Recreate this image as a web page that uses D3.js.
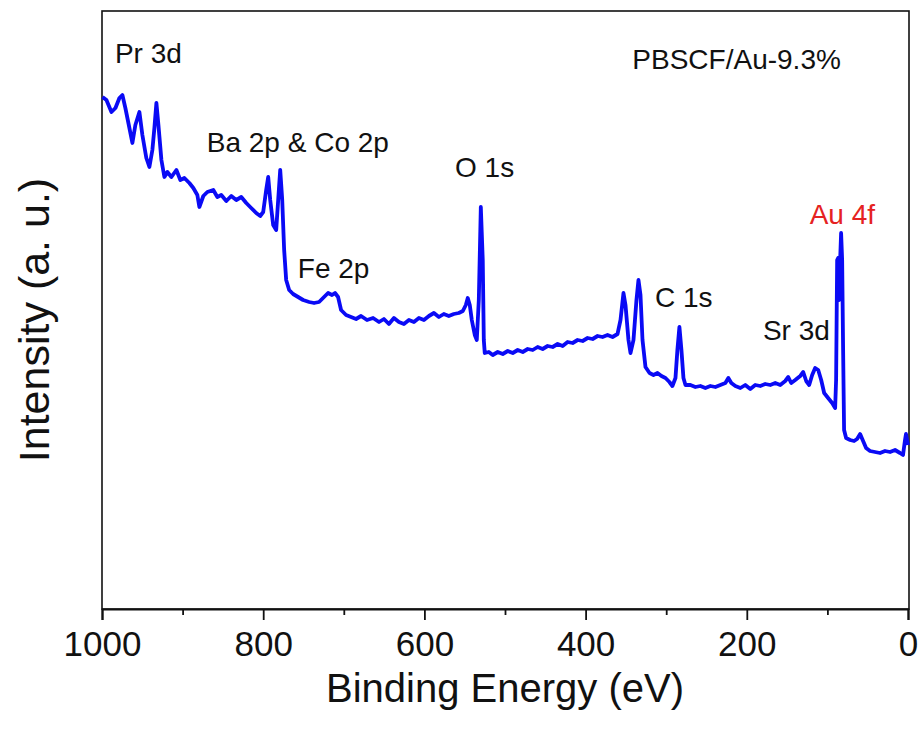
<!DOCTYPE html>
<html>
<head>
<meta charset="utf-8">
<script src="https://cdn.jsdelivr.net/npm/d3@7"></script>
<style>
  body { margin: 0; background: #fff; }
  text { font-family: "Liberation Sans", Arial, sans-serif; }
</style>
</head>
<body>
<div id="vis1"></div>
<script>
// XPS survey spectrum, PBSCF/Au-9.3%
var bindingEnergy = [999.4,994.5,988.3,983.3,978.4,974.7,971,966,962.3,958.6,953.6,949.9,945,941.2,937.5,935,932.5,930,926.3,922.6,918.9,913.9,907.7,902.8,897.8,891.6,886.7,881.7,879.2,874.3,869.3,861.9,856.9,852,845.8,839.6,833.4,827.2,821,814.9,808.7,803.7,800,796.3,793.8,791.3,787.6,783.9,781.4,778.9,776.4,774,771.5,767.8,762.9,756.7,750.5,743,736.9,730.7,724.5,719.5,714.6,710.9,707.1,703.4,697.2,691,684.8,678.6,671.2,663.7,656.3,650.2,644,637.8,631.6,625.4,619.2,613,606.8,600.6,594.4,588.2,582,575.9,569.7,563.5,557.3,552.3,548.6,546.2,543.7,541.2,537.5,535,532.5,530,527.6,526.3,525.1,520.1,515.2,509,502.8,496.6,490.4,484.2,478,471.8,465.6,459.5,453.3,447.1,440.9,434.7,428.5,422.3,416.1,409.9,403.7,397.5,391.3,385.1,379,372.8,366.6,360.4,356.7,353,350.5,346.8,344.3,340.6,336.9,334.4,331.9,329.4,325.7,320.7,315.8,310.8,305.9,300.9,296,292.3,288.5,286.1,283.6,281.1,278.6,276.1,270,263.8,257.6,251.4,245.2,239,232.8,226.6,222.9,219.2,214.2,208,201.9,195.7,189.5,183.3,177.1,170.9,164.7,158.5,152.3,148.6,144.9,139.9,133.7,130,126.3,122.6,118.9,115.2,111.4,107.7,104,99.1,94.1,90.4,89.2,87.9,86.7,85.4,84.2,83,81.7,80.5,79.3,76.8,71.8,66.9,63.2,59.4,55.7,52,47.1,40.9,34.7,28.5,22.3,16.1,9.9,6.2,3.7,2.5,0];
var intensity = [508,505,493,497,507,510,497,477,462,480,493,470,447,438,455,477,502,480,445,428,433,428,435,425,427,422,417,410,398,409,413,415,408,410,404,409,405,408,402,397,392,389,393,415,428,405,380,375,405,435,405,355,325,315,311,308,305,303,302,303,308,312,310,312,308,295,290,288,286,289,285,287,283,286,281,287,283,281,285,283,287,285,289,292,288,291,289,291,292,294,300,307,300,285,270,265,305,398,345,265,252,253,250,253,251,254,252,255,253,256,255,258,256,259,258,261,259,263,262,265,264,267,266,269,268,270,268,271,285,312,300,265,252,265,305,325,310,265,238,232,230,232,229,227,223,219,227,255,278,255,227,220,220,218,219,217,219,218,220,222,227,222,219,217,220,216,220,219,221,220,222,220,224,228,222,225,229,233,224,220,230,237,235,225,212,207,202,197,225,345,347,305,345,372,345,255,175,167,165,164,166,171,164,157,154,153,152,154,153,155,152,150,165,171,160];

var xTicks = [1000, 800, 600, 400, 200, 0];
var xMinorTicks = [900, 700, 500, 300, 100];

var peakLabels = ["Pr 3d", "Ba 2p & Co 2p", "Fe 2p", "O 1s", "C 1s", "Sr 3d", "Au 4f", "PBSCF/Au-9.3%"];
var labelEnergy = [984, 870, 757, 562, 314, 180, 122, 342];
var labelIntensity = [542, 453, 327, 428, 298, 265, 381, 536];
var labelColor = ["#111", "#111", "#111", "#111", "#111", "#111", "#e52222", "#111"];

var margin = {top: 11, right: 15, bottom: 127, left: 102},
    width = 924 - margin.left - margin.right,
    height = 736 - margin.top - margin.bottom;

var svg = d3.select("#vis1")
  .append("svg")
    .attr("width", 924)
    .attr("height", 736)
  .append("g")
    .attr("transform", "translate(" + margin.left + "," + margin.top + ")");

var x = d3.scaleLinear()
  .domain([1000, 0])
  .range([0, 806]);

var y = d3.scaleLinear()
  .domain([-4, 594])
  .range([height, 0]);

var data = bindingEnergy.map(function(e, i) { return [e, intensity[i]]; });

// frame
svg.append("rect")
  .attr("x", 0)
  .attr("y", 0)
  .attr("width", 807)
  .attr("height", height)
  .attr("fill", "none")
  .attr("stroke", "#111")
  .attr("stroke-width", 1.6);

// minor ticks
svg.append("g")
  .attr("transform", "translate(0," + height + ")")
  .call(d3.axisBottom(x).tickValues(xMinorTicks).tickSize(6).tickFormat(""))
  .call(function(g) { g.select(".domain").remove(); })
  .selectAll("line").attr("stroke", "#111").attr("stroke-width", 1.8);

// major ticks
var xAxis = svg.append("g")
  .attr("transform", "translate(0," + height + ")")
  .call(d3.axisBottom(x).tickValues(xTicks).tickSize(11).tickPadding(11).tickFormat(d3.format("d")));

xAxis.select(".domain").attr("stroke", "#111").attr("stroke-width", 2);
xAxis.selectAll("line").attr("stroke", "#111").attr("stroke-width", 1.8);
xAxis.selectAll("text")
  .attr("font-family", "Liberation Sans, Arial, sans-serif")
  .style("font-size", "35px")
  .attr("fill", "#111")
  .attr("dy", "0.71em");

// spectrum
svg.append("path")
  .datum(data)
  .attr("fill", "none")
  .attr("stroke", "#0a0af5")
  .attr("stroke-width", 3.8)
  .attr("stroke-linejoin", "round")
  .attr("d", d3.line()
    .x(function(d) { return x(d[0]); })
    .y(function(d) { return y(d[1]); })
  );

// peak labels
svg.selectAll(".peak")
  .data(peakLabels)
  .enter()
  .append("text")
  .attr("class", "peak")
  .attr("x", function(d, i) { return x(labelEnergy[i]); })
  .attr("y", function(d, i) { return y(labelIntensity[i]); })
  .attr("fill", function(d, i) { return labelColor[i]; })
  .style("font-size", "28px")
  .text(function(d) { return d; });

svg.append("text")
  .attr("text-anchor", "middle")
  .attr("x", 403)
  .attr("y", 691)
  .style("font-size", "40px")
  .attr("fill", "#111")
  .text("Binding Energy (eV)");

svg.append("text")
  .attr("text-anchor", "middle")
  .attr("transform", "rotate(-90)")
  .attr("x", -309)
  .attr("y", -53)
  .style("font-size", "43px")
  .attr("fill", "#111")
  .text("Intensity (a. u.)");
</script>
</body>
</html>
